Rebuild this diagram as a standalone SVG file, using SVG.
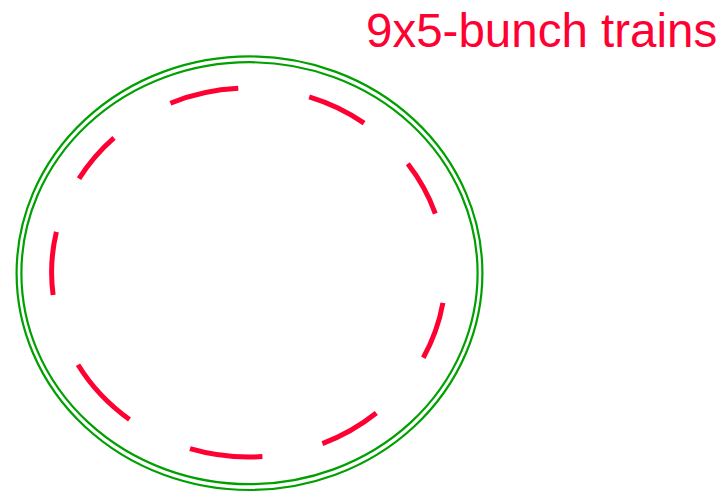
<svg xmlns="http://www.w3.org/2000/svg" width="725" height="492" viewBox="0 0 725 492">
<style>
.ring{fill:none;stroke:#00a000;stroke-width:2.2}
.train{fill:none;stroke:#ff0033;stroke-width:5;stroke-linecap:butt}
.lbl{font-family:"Liberation Sans",Arial,sans-serif;font-size:47.5px;fill:#ff0033}
</style>
<rect width="725" height="492" fill="#ffffff"/>
<g id="ring">
<ellipse class="ring" cx="249.5" cy="273.2" rx="232.9" ry="216.8"/>
<ellipse class="ring" cx="249.5" cy="273.2" rx="228.1" ry="211"/>
</g>
<g id="trains">
<path class="train" d="M442.9,302.9 A197,184.5 0 0 1 423.3,357.7"/>
<path class="train" d="M376.3,413.0 A197,184.5 0 0 1 322.4,443.6"/>
<path class="train" d="M262.4,456.6 A197,184.5 0 0 1 190.0,448.7"/>
<path class="train" d="M129.5,419.5 A197,184.5 0 0 1 78.0,364.8"/>
<path class="train" d="M53.1,295.0 A197,184.5 0 0 1 56.4,231.9"/>
<path class="train" d="M79.0,178.6 A197,184.5 0 0 1 114.0,137.8"/>
<path class="train" d="M170.4,103.2 A197,184.5 0 0 1 238.3,88.3"/>
<path class="train" d="M309.2,96.9 A197,184.5 0 0 1 364.1,123.1"/>
<path class="train" d="M407.8,163.8 A197,184.5 0 0 1 435.3,213.6"/>
</g>
<g id="label">
<text class="lbl" x="366" y="47">9x5-bunch trains</text>
</g>
</svg>
